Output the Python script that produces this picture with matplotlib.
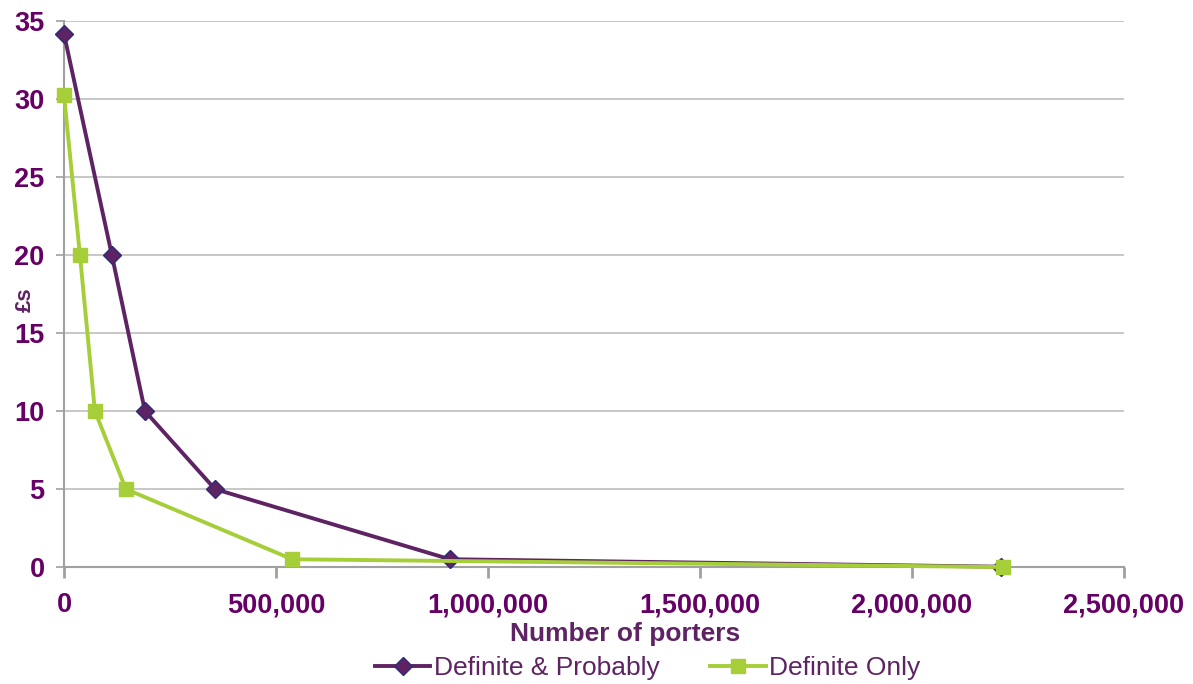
import matplotlib
matplotlib.use("Agg")
import matplotlib.pyplot as plt
from matplotlib.ticker import FuncFormatter

plt.rcParams['font.family'] = ['Liberation Sans', 'DejaVu Sans']

dp_x = [0, 113000, 191000, 356000, 910000, 2210000]
dp_y = [34.2, 20, 10, 5, 0.5, 0.02]
do_x = [0, 37700, 73000, 146000, 538000, 2215000]
do_y = [30.3, 20, 10, 5, 0.5, 0.0]
x_ticks = [0, 500000, 1000000, 1500000, 2000000, 2500000]
y_ticks = [0, 5, 10, 15, 20, 25, 30, 35]

purple = '#5E2363'
label_col = '#660066'
green = '#A6CE39'
grid_col = '#BEBEBE'

fig = plt.figure(figsize=(11.93, 6.84), dpi=100)
ax = fig.add_axes([0.0536, 0.171, 0.8886, 0.798])

ax.plot(dp_x, dp_y, color=purple, lw=2.8, marker='D', ms=9,
        markerfacecolor=purple, markeredgecolor='#2E2A7A', markeredgewidth=1,
        label='Definite & Probably', zorder=3, clip_on=False)
ax.plot(do_x, do_y, color=green, lw=2.8, marker='s', ms=10,
        markerfacecolor=green, markeredgecolor=green,
        label='Definite Only', zorder=4, clip_on=False)

ax.set_xlim(0, 2500000)
ax.set_ylim(0, 35)
ax.set_xticks(x_ticks)
ax.set_yticks(y_ticks)
ax.xaxis.set_major_formatter(FuncFormatter(lambda v, p: f"{int(v):,}"))
ax.yaxis.grid(True, color=grid_col, lw=1.2)
ax.set_axisbelow(True)
for s in ['top', 'right']:
    ax.spines[s].set_visible(False)
for s in ['left', 'bottom']:
    ax.spines[s].set_color('#A0A0A0')
    ax.spines[s].set_linewidth(1.5)
ax.spines['bottom'].set_zorder(2)

ax.tick_params(axis='x', direction='out', length=8, width=2, color='#A0A0A0',
               pad=10, labelsize=19.5, labelcolor=label_col)
ax.tick_params(axis='y', direction='out', length=6, width=1.2, color='#A0A0A0',
               pad=8, labelsize=19.5, labelcolor=label_col)
for lab in ax.get_xticklabels() + ax.get_yticklabels():
    lab.set_fontweight('bold')

ax.set_xlabel('Number of porters', fontsize=19, fontweight='bold',
              color=purple)
ax.xaxis.set_label_coords(0.529, -0.123)
ax.xaxis.label.set_va('center')
ax.set_ylabel('£s', fontsize=16, fontweight='bold', color=purple)
ax.yaxis.set_label_coords(-0.027, 0.49)

leg = fig.legend(loc='center', bbox_to_anchor=(0.543, 0.023), ncol=2,
                 frameon=False, fontsize=19, handlelength=2.1,
                 columnspacing=1.9, handletextpad=0.15)
for t in leg.get_texts():
    t.set_color(purple)

fig.savefig('out.png', dpi=100)
